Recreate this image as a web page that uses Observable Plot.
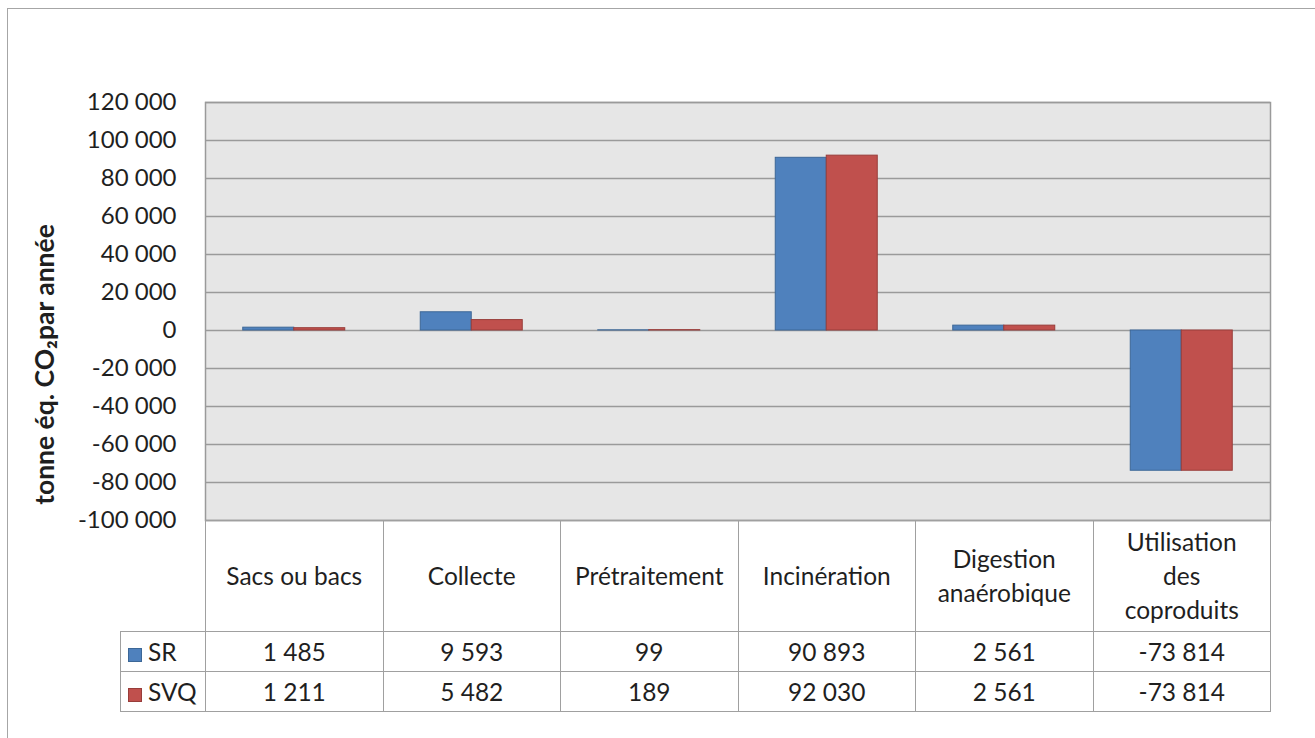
<!DOCTYPE html>
<html lang="fr">
<head>
<meta charset="utf-8">
<script src="https://cdn.jsdelivr.net/npm/d3@7"></script>
<script src="https://cdn.jsdelivr.net/npm/@observablehq/plot@0.6"></script>
<style>
  html, body { margin: 0; padding: 0; background: #fff; }
  body { width: 1315px; height: 738px; overflow: hidden; font-family: Lato, "Open Sans", sans-serif; }
  #chart { position: relative; width: 1315px; height: 738px; }
  #border { position: absolute; left: 7px; top: 8px; width: 1320px; height: 740px;
            border-left: 1.5px solid #a6a6a6; border-top: 1.5px solid #a6a6a6; box-sizing: border-box; }
  #plot { position: absolute; left: 0; top: 0; }
  #table { position: absolute; border-collapse: collapse; font-family: Lato, sans-serif;
           font-size: 24.5px; color: #1f1f1f; table-layout: fixed; }
  #table td { border: 1.5px solid #a0a0a0; text-align: center; padding: 0; }
  #table td.blank { border-left: none; border-top: none; border-bottom: 1.5px solid #a0a0a0; }
  #table tr.head td { height: 110px; line-height: 34px; }
  #table tr.row td { height: 39px; }
  #table td.key { text-align: left; padding-left: 7px; white-space: nowrap; }
  .swatch { display: inline-block; width: 14px; height: 14px; margin-right: 6px; vertical-align: -1px;
            box-sizing: border-box; border: 1px solid; }
</style>
</head>
<body>
<div id="chart"><div id="border"></div></div>
<script>
// Émissions de GES par étape de gestion, deux scénarios (SR, SVQ)
const categories = ["Sacs ou bacs", "Collecte", "Prétraitement", "Incinération", "Digestion anaérobique", "Utilisation des coproduits"];
const headerLines = [["Sacs ou bacs"], ["Collecte"], ["Prétraitement"], ["Incinération"], ["Digestion", "anaérobique"], ["Utilisation", "des", "coproduits"]];
const seriesNames = ["SR", "SVQ"];
const valuesSR = [1485, 9593, 99, 90893, 2561, -73814];
const valuesSVQ = [1211, 5482, 189, 92030, 2561, -73814];
const yTicks = [-100000, -80000, -60000, -40000, -20000, 0, 20000, 40000, 60000, 80000, 100000, 120000];
const yLabel = "tonne éq. CO₂par année";

const colors = {SR: "#4f81bd", SVQ: "#c0504d"};
const edges = {SR: "#3c6797", SVQ: "#983d3a"};

const locale = d3.formatLocale({decimal: ",", thousands: " ", grouping: [3], currency: ["", " €"], minus: "-"});
const fmt = locale.format(",d");

const rowsSR = categories.map((c, i) => ({category: c, series: "SR", value: valuesSR[i]}));
const rowsSVQ = categories.map((c, i) => ({category: c, series: "SVQ", value: valuesSVQ[i]}));

const W = 1315, mLeft = 205, mRight = 45;
const band = (W - mLeft - mRight) / categories.length;
const barW = 51;
const gap = (band - 2 * barW) / 2;

const plot = Plot.plot({
  width: W,
  height: 522,
  marginLeft: mLeft,
  marginRight: mRight,
  marginTop: 102,
  marginBottom: 2,
  style: {fontFamily: "Lato, sans-serif", fontSize: "24px", color: "#1f1f1f", background: "transparent", overflow: "visible"},
  x: {domain: categories, padding: 0, round: false, axis: null},
  y: {domain: [-100000, 120000], ticks: yTicks, axis: null},
  marks: [
    Plot.frame({fill: "#e6e6e6", stroke: "#9a9a9a", strokeWidth: 1.5}),
    Plot.gridY(yTicks, {stroke: "#9a9a9a", strokeOpacity: 1, strokeWidth: 1.5}),
    Plot.axisY(yTicks, {tickSize: 0, tickPadding: 29, tickFormat: fmt, label: null, fontSize: 24}),
    Plot.barY(rowsSR, {x: "category", y: "value", fill: colors.SR, stroke: edges.SR, strokeWidth: 1,
      insetLeft: gap, insetRight: gap + barW}),
    Plot.barY(rowsSVQ, {x: "category", y: "value", fill: colors.SVQ, stroke: edges.SVQ, strokeWidth: 1,
      insetLeft: gap + barW, insetRight: gap}),
    Plot.text([yLabel], {frameAnchor: "left", textAnchor: "middle", rotate: -90, dx: -160, dy: 53,
      fontWeight: "bold", fontSize: 26.5, fill: "#1f1f1f"})
  ]
});
plot.id = "plot";
document.getElementById("chart").appendChild(plot);

// Tableau de données aligné sur l'échelle des catégories
const xs = plot.scale("x");
const colLeft = xs.apply(categories[0]);
const keyW = 85;
const table = document.createElement("table");
table.id = "table";
const colgroup = document.createElement("colgroup");
const keyCol = document.createElement("col");
keyCol.style.width = keyW + "px";
colgroup.appendChild(keyCol);
categories.forEach(() => {
  const col = document.createElement("col");
  col.style.width = xs.bandwidth + "px";
  colgroup.appendChild(col);
});
table.appendChild(colgroup);
table.style.left = (colLeft - keyW) + "px";
table.style.top = "520px";
table.style.width = (keyW + xs.bandwidth * categories.length) + "px";

const head = document.createElement("tr");
head.className = "head";
const blank = document.createElement("td");
blank.className = "blank";
head.appendChild(blank);
headerLines.forEach(lines => {
  const td = document.createElement("td");
  td.innerHTML = lines.join("<br>");
  head.appendChild(td);
});
table.appendChild(head);

[["SR", valuesSR], ["SVQ", valuesSVQ]].forEach(([name, vals]) => {
  const tr = document.createElement("tr");
  tr.className = "row";
  const key = document.createElement("td");
  key.className = "key";
  key.innerHTML = `<span class="swatch" style="background:${colors[name]};border-color:${edges[name]}"></span>${name}`;
  tr.appendChild(key);
  vals.forEach(v => {
    const td = document.createElement("td");
    td.textContent = fmt(v);
    tr.appendChild(td);
  });
  table.appendChild(tr);
});
document.getElementById("chart").appendChild(table);
</script>
</body>
</html>
